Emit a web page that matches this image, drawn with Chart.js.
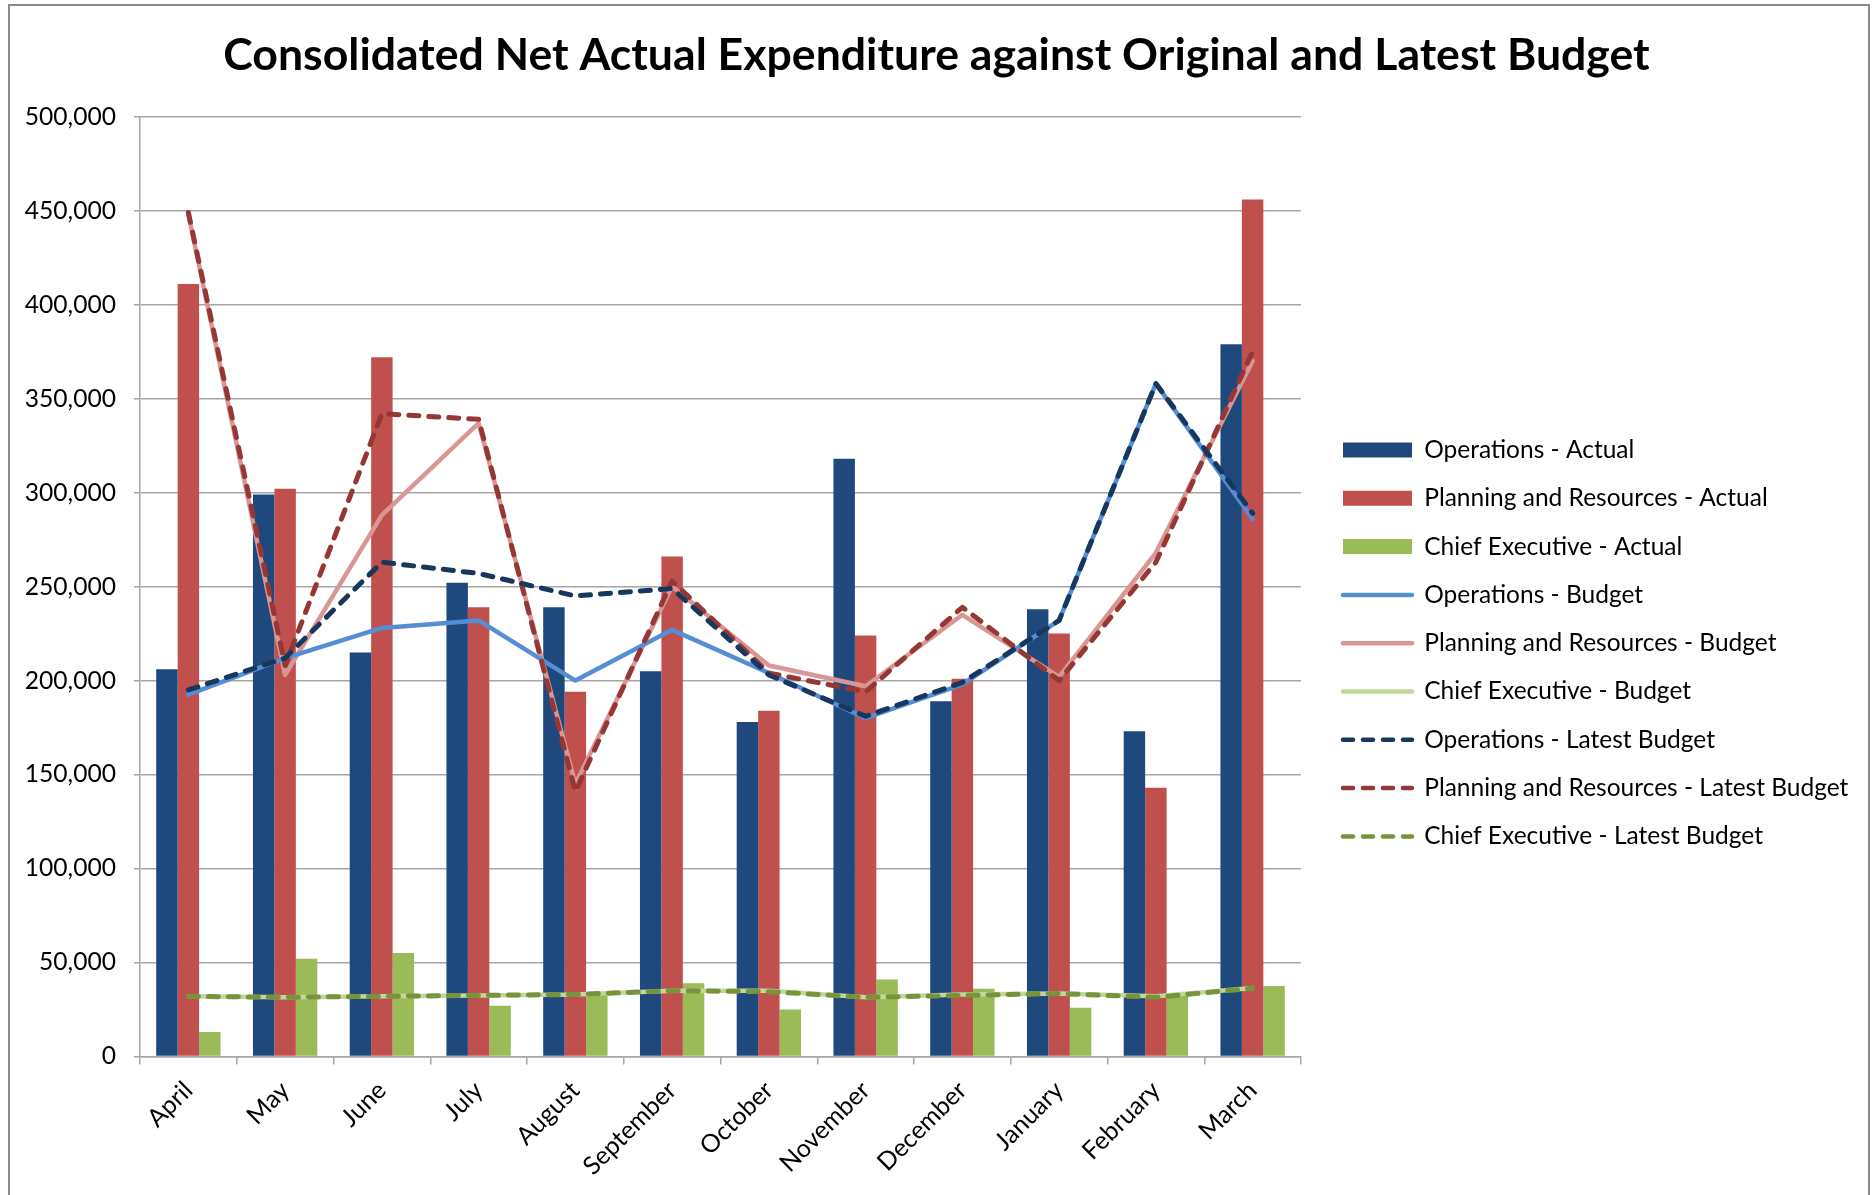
<!DOCTYPE html>
<html><head><meta charset="utf-8">
<script src="https://cdn.jsdelivr.net/npm/chart.js@4.4.1/dist/chart.umd.min.js"></script>
<style>
html,body{margin:0;padding:0;background:#fff;width:1873px;height:1195px;overflow:hidden;}
#frame{position:absolute;left:8px;top:4px;width:1862px;height:1300px;border:2px solid #8a8a8a;box-sizing:border-box;}
#wrap{position:absolute;left:0;top:0;width:1873px;height:1195px;}
</style></head><body>
<div id="frame"></div>
<div id="wrap"><canvas id="c" width="1873" height="1195"></canvas></div>
<script>
const TITLE = 'Consolidated Net Actual Expenditure against Original and Latest Budget';
const months = ['April','May','June','July','August','September','October','November','December','January','February','March'];
const yTicks = [0, 50000, 100000, 150000, 200000, 250000, 300000, 350000, 400000, 450000, 500000];

const opsActual = [206000, 299000, 215000, 252000, 239000, 205000, 178000, 318000, 189000, 238000, 173000, 379000];
const prActual  = [411000, 302000, 372000, 239000, 194000, 266000, 184000, 224000, 201000, 225000, 143000, 456000];
const ceActual  = [13000, 52000, 55000, 27000, 33000, 39000, 25000, 41000, 36000, 26000, 32500, 37500];

const opsBudget = [192500, 212000, 228000, 232000, 200000, 227000, 204000, 180000, 198000, 232000, 358000, 286000];
const prBudget  = [448000, 203000, 288000, 337000, 145000, 250000, 208000, 197000, 235000, 202000, 268000, 370000];
const ceBudget  = [32000, 31500, 32000, 32500, 33000, 35000, 35000, 31500, 33000, 33500, 32000, 36500];

const opsLatest = [195000, 212000, 263000, 257000, 245000, 249000, 203000, 181000, 199000, 232000, 358000, 289000];
const prLatest  = [449000, 208000, 342000, 339000, 141000, 253000, 204000, 194000, 239000, 200000, 263000, 375000];
const ceLatest  = [32000, 31500, 32000, 32500, 33000, 35000, 34500, 31500, 32500, 33500, 31500, 36300];

// fit title font size to the reference width
const mctx = document.createElement('canvas').getContext('2d');
mctx.font = 'bold 100px Lato';
const titleSize = Math.round(100 * 1428 / mctx.measureText(TITLE).width * 10) / 10;
const titleLH = titleSize * 1.2;
const LEG_FONT = 24.5;

function bar(label, data, color) {
  return { type: 'bar', label, data, backgroundColor: color, borderWidth: 0, order: 3 };
}
function line(label, data, color, dashed) {
  return { type: 'line', label, data, borderColor: color, backgroundColor: color,
    borderWidth: dashed ? 5 : 4.5, borderDash: dashed ? [10, 10] : [], borderCapStyle: 'round',
    borderJoinStyle: 'round', pointRadius: 0, pointHoverRadius: 0, tension: 0, fill: false,
    order: dashed ? 1 : 2 };
}

const LEG_PAD = 48.3 - LEG_FONT;
const legendPos = {
  id: 'legendPos',
  beforeLayout(chart) {
    const lg = chart.legend;
    if (lg && !lg._patched) {
      const f = lg.fit;
      lg.fit = function () { f.call(this); this.width = 572; };
      lg._patched = true;
    }
  },
  afterLayout(chart) {
    const lg = chart.legend;
    const dx = 1343 - LEG_PAD - lg.left;
    lg.left += dx; lg.right += dx;
    lg.top = 450 - LEG_FONT / 2 - LEG_PAD; lg.bottom = lg.top + 3000;
  }
};

new Chart(document.getElementById('c'), {
  type: 'bar',
  data: {
    labels: months,
    datasets: [
      bar('Operations - Actual', opsActual, '#1F497D'),
      bar('Planning and Resources - Actual', prActual, '#C0504D'),
      bar('Chief Executive - Actual', ceActual, '#9BBB59'),
      line('Operations - Budget', opsBudget, '#558ED5', false),
      line('Planning and Resources - Budget', prBudget, '#D99694', false),
      line('Chief Executive - Budget', ceBudget, '#C3D69B', false),
      line('Operations - Latest Budget', opsLatest, '#17375E', true),
      line('Planning and Resources - Latest Budget', prLatest, '#953735', true),
      line('Chief Executive - Latest Budget', ceLatest, '#77933C', true)
    ]
  },
  options: {
    responsive: false,
    animation: false,
    devicePixelRatio: 1,
    layout: { padding: 0 },
    datasets: { bar: { categoryPercentage: 0.665, barPercentage: 1.0 } },
    plugins: {
      tooltip: { enabled: false },
      title: {
        display: true, text: TITLE, color: '#000',
        font: { family: 'Lato', weight: 'bold', size: titleSize, lineHeight: 1.2 },
        padding: { top: 56 - titleLH / 2, bottom: 116.7 - 56 - titleLH / 2 }
      },
      legend: {
        display: true, position: 'right', align: 'start',
        labels: {
          color: '#000', font: { family: 'Lato', size: LEG_FONT },
          padding: LEG_PAD, boxWidth: 69, boxHeight: 15, usePointStyle: true, pointStyleWidth: 69,
          sort: (a, b) => a.datasetIndex - b.datasetIndex,
          generateLabels(chart) {
            const items = Chart.defaults.plugins.legend.labels.generateLabels(chart);
            items.forEach(it => {
              const ds = chart.data.datasets[it.datasetIndex];
              if (ds.type === 'line') {
                it.pointStyle = 'line'; it.strokeStyle = ds.borderColor; it.lineWidth = 4.5;
                it.lineDash = ds.borderDash; it.lineCap = 'round'; it.fillStyle = 'rgba(0,0,0,0)';
              } else {
                it.pointStyle = 'rect'; it.lineWidth = 0; it.fillStyle = ds.backgroundColor;
              }
            });
            return items;
          }
        }
      }
    },
    scales: {
      x: {
        offset: true,
        grid: { display: true, drawOnChartArea: false, drawTicks: true, tickLength: 8, color: '#a6a6a6', lineWidth: 1.5, offset: true },
        border: { display: true, color: '#a6a6a6', width: 1.5 },
        ticks: { autoSkip: false, minRotation: 45, maxRotation: 45, padding: 11, labelOffset: 0,
          color: '#000', font: { family: 'Lato', size: 25 } },
        afterFit(s) { s.height = 1195 - 1056.5; }
      },
      y: {
        min: 0, max: 500000,
        afterBuildTicks(s) { s.ticks = yTicks.map(v => ({ value: v })); },
        grid: { color: '#a6a6a6', lineWidth: 1.5, tickLength: 6, drawTicks: true },
        border: { display: true, color: '#a6a6a6', width: 1.5 },
        ticks: { padding: 18, color: '#000', font: { family: 'Lato', size: 24.6 },
          callback: v => Number(v).toLocaleString('en-US') },
        afterFit(s) { s.width = 140; }
      }
    }
  },
  plugins: [legendPos]
});
</script>
</body></html>
